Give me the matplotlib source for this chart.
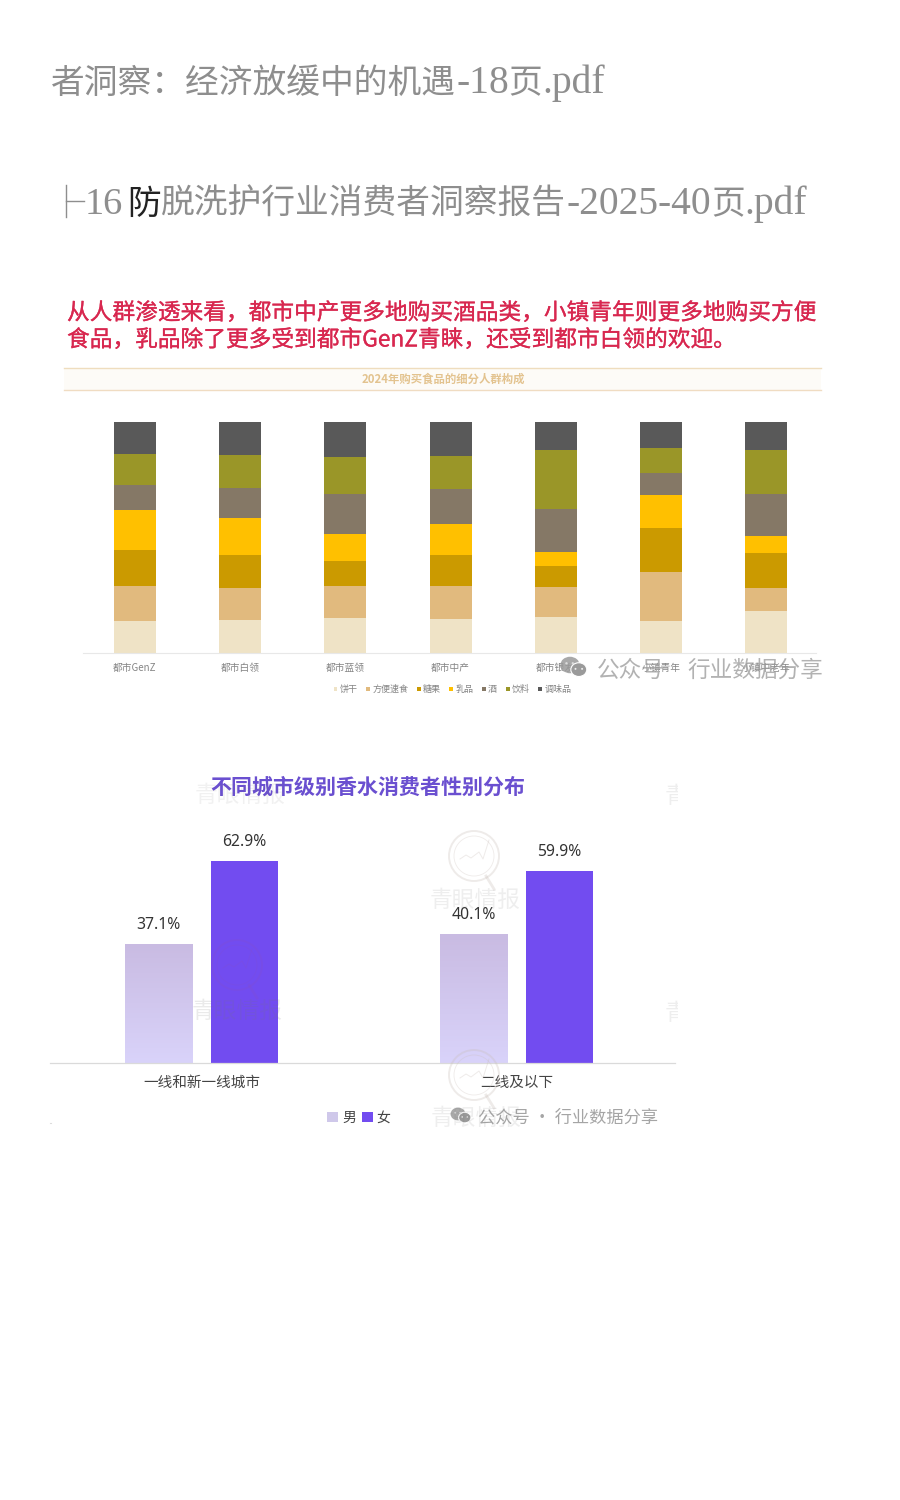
import matplotlib
matplotlib.use("Agg")
import matplotlib.pyplot as plt
import matplotlib.patheffects as pe
import numpy as np
from matplotlib.colors import LinearSegmentedColormap
from matplotlib.patches import Circle, Ellipse, Rectangle

CJK = ['Noto Sans CJK SC', 'DejaVu Sans']
SERIF = ['Liberation Serif', 'Noto Sans CJK SC', 'DejaVu Sans']
plt.rcParams['font.family'] = CJK

# ---- data: food purchase audience structure
segments = ['都市GenZ', '都市白领', '都市蓝领', '都市中产', '都市银发', '小镇青年', '小镇中老年']
food_names = ['饼干', '方便速食', '糖果', '乳品', '酒', '饮料', '调味品']
biscuit = [13.7, 14.1, 14.9, 14.7, 15.4, 13.6, 18.0]
instant = [15.0, 14.0, 13.9, 14.1, 13.1, 21.4, 10.0]
candy = [15.7, 14.3, 10.8, 13.7, 9.1, 19.0, 15.0]
dairy = [17.2, 15.9, 12.0, 13.0, 5.8, 14.3, 7.5]
liquor = [11.1, 13.1, 17.3, 15.4, 19.0, 9.5, 18.0]
drinks = [13.4, 14.1, 15.9, 14.1, 25.3, 10.7, 19.2]
season = [13.9, 14.4, 15.3, 14.7, 12.3, 11.5, 12.3]
food_values = [biscuit, instant, candy, dairy, liquor, drinks, season]
food_colors = ['#EFE3C6', '#E1BA7E', '#CB9A00', '#FFC000', '#857866', '#9A9628', '#595959']

# ---- data: perfume consumers by city tier
city_tiers = ['一线和新一线城市', '二线及以下']
male = [37.1, 40.1]
female = [62.9, 59.9]

W, H = 900, 1500
fig = plt.figure(figsize=(W / 100, H / 100), dpi=100, facecolor='white')


def axes_px(x0, y_top, x1, y_bot, **kw):
    return fig.add_axes([x0 / W, 1 - y_bot / H, (x1 - x0) / W, (y_bot - y_top) / H], **kw)


back = axes_px(0, 0, W, H, zorder=0)
back.set_xlim(0, W); back.set_ylim(H, 0); back.axis('off')
front = axes_px(0, 0, W, H, zorder=5)
front.set_xlim(0, W); front.set_ylim(H, 0); front.axis('off'); front.patch.set_alpha(0)

# ---- page headings made of several text runs
renderer = fig.canvas.get_renderer()


def runs(x, y, parts):
    for s, c, size in parts:
        t = back.text(x, y, s, color=c, fontsize=size, family=SERIF, va='baseline', ha='left')
        x += t.get_window_extent(renderer).width


GREY = '#8E8E8E'
CN, LAT = 24.3, 28.5
runs(51, 93, [('者洞察：经济放缓中的机遇', GREY, CN), ('-18', GREY, LAT), ('页', GREY, CN), ('.pdf', GREY, LAT)])
back.plot([66, 66], [185, 217], color=GREY, lw=1.0)
back.plot([66, 84], [201, 201], color=GREY, lw=1.0)
runs(85, 214, [('16', GREY, LAT - 1), ('.', 'white', 12), ('防', '#222222', CN), ('脱洗护行业消费者洞察报告', GREY, CN),
               ('-2025-40', GREY, LAT), ('页', GREY, CN), ('.pdf', GREY, LAT)])

# ---- red statement and ribbon of chart 1
RED = '#D8274F'
stroke = [pe.withStroke(linewidth=0.2, foreground=RED)]
back.text(67, 313, '从人群渗透来看，都市中产更多地购买酒品类，小镇青年则更多地购买方便',
          color=RED, fontsize=16.35, va='center', ha='left', path_effects=stroke)
back.text(67, 340, '食品，乳品除了更多受到都市GenZ青睐，还受到都市白领的欢迎。',
          color=RED, fontsize=16.35, va='center', ha='left', path_effects=stroke)
back.add_patch(Rectangle((64, 367.5), 757, 22.5, color='#FDFBF7', lw=0))
back.plot([64, 821], [367.5, 367.5], color='#EFDDBE', lw=1.0)
back.plot([64, 821], [390, 390], color='#F0DCC2', lw=1.0)
back.text(443, 379, '2024年购买食品的细分人群构成', color='#E3C38F', fontsize=8.2,
          weight='bold', va='center', ha='center')

# ---- chart 1: stacked bars
ax1 = axes_px(82.7, 421.7, 816, 652.7, zorder=2)
ax1.patch.set_alpha(0)
x1 = np.arange(len(segments))
step = 105.2
ax1.set_xlim((82.7 - 135) / step, (816 - 135) / step)
ax1.set_ylim(0, 100)
base = np.zeros(len(segments))
for name, vals, col in zip(food_names, food_values, food_colors):
    ax1.bar(x1, vals, bottom=base, width=42 / step, color=col, label=name, lw=0)
    base = base + np.array(vals)
ax1.set_xticks(x1, segments, fontsize=7.0, color='#858585')
ax1.tick_params(axis='x', length=0, pad=7.5)
ax1.set_yticks([])
for s in ['top', 'left', 'right']:
    ax1.spines[s].set_visible(False)
ax1.spines['bottom'].set_color('#E8E8E8')
ax1.spines['bottom'].set_linewidth(0.8)
ax1.legend(loc='center', bbox_to_anchor=(452.5 / W, 1 - 689.5 / H), bbox_transform=fig.transFigure,
           ncol=7, frameon=False, fontsize=6.5, labelcolor='#858585', handlelength=0.42,
           handleheight=0.42, handletextpad=0.25, columnspacing=0.95, borderpad=0, borderaxespad=0)

# ---- chart 2: grouped bars
scale = 3.216
ax2 = axes_px(50, 770, 675, 1063.3, zorder=2)
ax2.patch.set_alpha(0)
step2 = 315.25
x2 = np.arange(len(city_tiers))
wid = 67.5 / step2
off_m = 43.0 / step2
off_f = 42.5 / step2
xlim2 = ((50 - 201.75) / step2, (675 - 201.75) / step2)
ylim2 = (0, (1063.3 - 770) / scale)
bars_m = ax2.bar(x2 - off_m, male, width=wid, color='#CFC8EA', label='男', lw=0)
bars_f = ax2.bar(x2 + off_f, female, width=wid, color='#724CF0', label='女', lw=0)
grad = LinearSegmentedColormap.from_list('g', ['#D9D3FA', '#C9BBE2'])
for r in bars_m:
    im = ax2.imshow(np.linspace(0, 1, 128)[:, None], origin='lower', aspect='auto', cmap=grad,
                    extent=(r.get_x(), r.get_x() + r.get_width(), 0, r.get_height()), zorder=2)
    im.set_clip_path(r)
ax2.set_xlim(*xlim2)
ax2.set_ylim(*ylim2)
for bars in (bars_m, bars_f):
    ax2.bar_label(bars, labels=[f'{v:.1f}%' for v in bars.datavalues], padding=8,
                  fontsize=11.3, color='#333333', family=['Noto Sans', 'DejaVu Sans'])
ax2.set_xticks(x2, city_tiers, fontsize=10.5, color='#444444')
ax2.tick_params(axis='x', length=0, pad=9.2)
ax2.set_yticks([])
for s in ['top', 'left', 'right']:
    ax2.spines[s].set_visible(False)
ax2.spines['bottom'].set_color('#DADADA')
ax2.spines['bottom'].set_linewidth(0.9)
ax2.legend(loc='center', bbox_to_anchor=(359 / W, 1 - 1118 / H), bbox_transform=fig.transFigure,
           ncol=2, frameon=False, fontsize=10, labelcolor='#444444', handlelength=0.75,
           handleheight=0.75, handletextpad=0.3, columnspacing=0.45, borderpad=0, borderaxespad=0)
back.text(368, 787.5, '不同城市级别香水消费者性别分布', color='#6A4FD0', fontsize=15.1,
          weight='bold', va='center', ha='center', zorder=5)

# ---- watermarks


def mark_text(x, y, clip=None, alpha=0.12):
    t = front.text(x, y, '青眼情报', color='#777777', alpha=alpha, fontsize=16.4,
                   va='center', ha='center')
    if clip is not None:
        t.set_clip_path(Rectangle((clip[0], clip[1]), clip[2], clip[3], transform=front.transData))
        t.set_clip_on(True)


def lens(x, y, r=25, col='#C9BEB8', alpha=0.3):
    front.add_patch(Circle((x, y), r, fill=False, ec=col, lw=1.4, alpha=alpha))
    front.add_patch(Circle((x, y), r - 5, fill=False, ec=col, lw=0.6, alpha=alpha))
    front.plot([x + 12, x + 20], [y + 20, y + 33], color=col, lw=2.0, alpha=alpha)
    front.plot([x - 14, x - 8, x - 3, x + 5, x + 9, x + 15], [y + 3, y - 1, y + 2, y - 4, y + 3, y - 16],
               color=col, lw=0.7, alpha=alpha)


lens(474, 856)
lens(474, 1075)
lens(237, 965, col='#8A4FC0', alpha=0.2)
mark_text(475, 900)
mark_text(237, 1011, alpha=0.15)
mark_text(476, 1118)
mark_text(240, 795, clip=(190, 782, 100, 30), alpha=0.1)
mark_text(710, 796, clip=(640, 780, 38, 30), alpha=0.12)
mark_text(710, 1013, clip=(640, 998, 38, 30), alpha=0.12)
front.plot([50, 51], [1123, 1123], color='#DDDDDD', lw=0.8)


def wechat(x, y, s, col='#9A9A9A', alpha=0.9):
    front.add_patch(Ellipse((x, y), 1.75 * s, 1.5 * s, color=col, alpha=alpha, lw=0))
    front.add_patch(Ellipse((x + 0.8 * s, y + 0.42 * s), 1.45 * s, 1.25 * s, fc=col, ec='white', lw=0.8))
    for dx in (-0.32, 0.25):
        front.add_patch(Circle((x + dx * s, y - 0.15 * s), 0.11 * s, color='#DDDDDD', lw=0))
    for dx in (0.5, 1.1):
        front.add_patch(Circle((x + dx * s, y + 0.35 * s), 0.09 * s, color='#EEEEEE', lw=0))


wechat(570, 665, 11, alpha=0.85)
front.text(597, 670, '公众号', color='#999999', alpha=0.75, fontsize=16.3, va='center', ha='left')
front.text(687, 670, '行业数据分享', color='#999999', alpha=0.75, fontsize=16.3, va='center', ha='left')
wechat(458, 1114, 8.5, alpha=0.85)
front.text(478, 1117, '公众号 · 行业数据分享', color='#8F8F8F', alpha=0.8, fontsize=12.4, va='center', ha='left')

fig.savefig('out.png', dpi=100, facecolor='white')
